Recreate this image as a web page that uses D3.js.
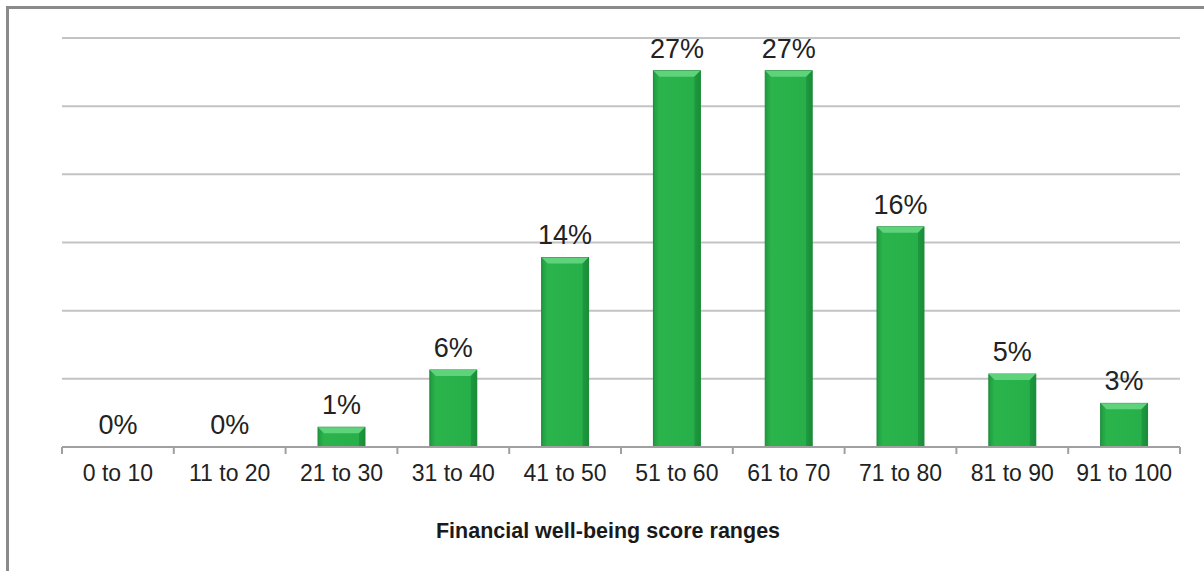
<!DOCTYPE html>
<html>
<head>
<meta charset="utf-8">
<script src="https://cdn.jsdelivr.net/npm/d3@7"></script>
<style>
  body { margin: 0; background: #fff; }
  svg { display: block; font-family: Arial, "Liberation Sans", sans-serif; }
</style>
</head>
<body>
<svg id="chart"></svg>
<script>
var width = 1204,
    height = 571;

// data
var categories = ["0 to 10", "11 to 20", "21 to 30", "31 to 40", "41 to 50",
                  "51 to 60", "61 to 70", "71 to 80", "81 to 90", "91 to 100"];
var values = [0, 0, 1.45, 5.65, 13.9, 27.6, 27.6, 16.15, 5.35, 3.2];
var labels = ["0%", "0%", "1%", "6%", "14%", "27%", "27%", "16%", "5%", "3%"];
var gridTicks = [5, 10, 15, 20, 25, 30];
var axisTitle = "Financial well-being score ranges";

var margin = {top: 38, left: 62, right: 24, bottom: 124};

var svg = d3.select("#chart")
    .attr("width", width)
    .attr("height", height);

// frame (only top + left edges show)
svg.append("path")
    .attr("d", "M7.5," + height + " V7.5 H" + width)
    .attr("fill", "none")
    .attr("stroke", "#8a8a8a")
    .attr("stroke-width", 3);

var x = d3.scaleBand()
    .domain(categories)
    .range([margin.left, width - margin.right])
    .paddingInner(0.58)
    .paddingOuter(0.29);

var y = d3.scaleLinear()
    .domain([0, 30])
    .range([height - margin.bottom, margin.top]);

var defs = svg.append("defs");
var grad = defs.append("linearGradient")
    .attr("id", "barGrad")
    .attr("x1", "0").attr("x2", "1").attr("y1", "0").attr("y2", "0");
grad.append("stop").attr("offset", "0%").attr("stop-color", "#1f9a40");
grad.append("stop").attr("offset", "12%").attr("stop-color", "#2bb34c");
grad.append("stop").attr("offset", "88%").attr("stop-color", "#27b049");
grad.append("stop").attr("offset", "100%").attr("stop-color", "#178a35");

// gridlines
svg.append("g")
    .selectAll("line")
    .data(gridTicks)
    .enter().append("line")
    .attr("x1", margin.left)
    .attr("x2", width - margin.right)
    .attr("y1", function(d) { return y(d); })
    .attr("y2", function(d) { return y(d); })
    .attr("stroke", "#c3c3c3")
    .attr("stroke-width", 2);

// bars with a small bevel
var bev = 6;
var bars = svg.append("g")
    .selectAll("g")
    .data(values.map(function(v, i) { return {cat: categories[i], v: v}; })
        .filter(function(d) { return d.v > 0; }))
    .enter().append("g");

bars.append("rect")
    .attr("x", function(d) { return x(d.cat); })
    .attr("y", function(d) { return y(d.v); })
    .attr("width", x.bandwidth())
    .attr("height", function(d) { return y(0) - y(d.v); })
    .attr("fill", "url(#barGrad)")
    .attr("stroke", "#1c8a38")
    .attr("stroke-width", 1);

bars.append("path")
    .attr("d", function(d) {
        var x0 = x(d.cat), w = x.bandwidth(), y0 = y(d.v);
        return "M" + x0 + "," + y0 + " H" + (x0 + w) + " L" + (x0 + w - bev) + "," + (y0 + bev) +
               " H" + (x0 + bev) + " Z";
    })
    .attr("fill", "#5fd37c");

bars.append("path")
    .attr("d", function(d) {
        var x0 = x(d.cat), w = x.bandwidth(), y0 = y(d.v);
        return "M" + (x0 + w) + "," + y0 + " L" + (x0 + w - bev) + "," + (y0 + bev) +
               " V" + y(0) + " H" + (x0 + w) + " Z";
    })
    .attr("fill", "#1b8f3a")
    .attr("opacity", 0.7);

// data labels
svg.append("g")
    .selectAll("text")
    .data(labels)
    .enter().append("text")
    .attr("x", function(d, i) { return x(categories[i]) + x.bandwidth() / 2; })
    .attr("y", function(d, i) { return y(values[i]) - 13; })
    .attr("text-anchor", "middle")
    .attr("font-size", 27)
    .attr("fill", "#222")
    .text(function(d) { return d; });

// x axis: line + ticks between categories
var edges = d3.range(categories.length + 1).map(function(i) {
    return margin.left + i * (width - margin.right - margin.left) / categories.length;
});

svg.append("line")
    .attr("x1", margin.left).attr("x2", width - margin.right)
    .attr("y1", y(0)).attr("y2", y(0))
    .attr("stroke", "#a0a0a0")
    .attr("stroke-width", 2);

svg.append("g")
    .selectAll("line")
    .data(edges)
    .enter().append("line")
    .attr("x1", function(d) { return d; })
    .attr("x2", function(d) { return d; })
    .attr("y1", y(0))
    .attr("y2", y(0) + 7)
    .attr("stroke", "#a0a0a0")
    .attr("stroke-width", 2);

svg.append("g")
    .selectAll("text")
    .data(categories)
    .enter().append("text")
    .attr("x", function(d) { return x(d) + x.bandwidth() / 2; })
    .attr("y", y(0) + 34)
    .attr("text-anchor", "middle")
    .attr("font-size", 23)
    .attr("fill", "#222")
    .text(function(d) { return d; });

svg.append("text")
    .attr("x", 608)
    .attr("y", 538)
    .attr("text-anchor", "middle")
    .attr("font-size", 21.5)
    .attr("font-weight", "bold")
    .attr("fill", "#1a1a1a")
    .text(axisTitle);
</script>
</body>
</html>
